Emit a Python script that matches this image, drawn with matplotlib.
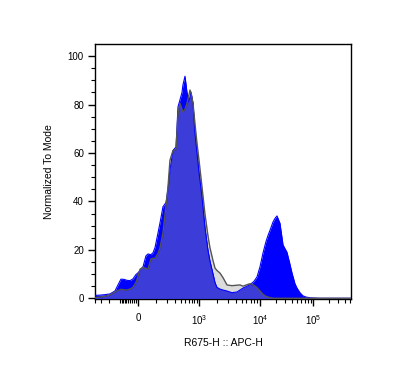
import numpy as np
import matplotlib
matplotlib.use("Agg")
import matplotlib.pyplot as plt
from matplotlib.scale import FuncScale

plt.rcParams['font.family'] = ['Liberation Sans', 'DejaVu Sans']
plt.rcParams['mathtext.fontset'] = 'custom'
plt.rcParams['mathtext.rm'] = 'Liberation Sans'

# intensité APC-H (échelle biexponentielle)
intensity = [-407, -316, -243, -185, -139, -115, -94, -74, -57, -40, -25, -10, 0,
             10, 25, 40, 51, 68, 81, 94, 115, 130, 156, 185, 207, 230, 270, 316,
             350, 388, 429, 449, 499, 551, 608, 640, 672, 743, 820, 905, 1000,
             1120, 1250, 1400, 1510, 1700, 1830, 1970, 2210, 2480, 2880, 3480,
             4200, 4700, 5260, 6120, 6850, 7970, 8930, 10000, 11400, 13000,
             14200, 15400, 17600, 19200, 20900, 23800, 27200, 29600, 32300,
             36800, 40200, 45700, 49900, 56800, 64700, 73800, 87700, 109000,
             135500, 521000]

# échantillon (bleu)
sample = [1.2, 1.3, 1.5, 1.8, 3.0, 5.5, 7.9, 7.8, 7.4, 7.3, 8.0, 9.8, 10.5,
          11.5, 13, 17.5, 18.3, 18.0, 18.8, 21, 27, 31, 37.8, 39.5, 45, 53, 61,
          62.5, 79, 82, 85, 88, 91.7, 85, 81.8, 83, 85, 80.5, 68, 60, 52,
          42, 29.4, 20, 15.5, 10, 6.5, 4.5, 3.8, 3.4, 3.0, 2.3,
          2.6, 3.4, 4.2, 5.0, 5.6, 7.0, 8.8, 13, 18.7, 23.5,
          26, 28, 31.5, 33, 34, 31, 22, 20.5, 19,
          14, 10.4, 6, 4.2, 2.3, 1.0, 0.5, 0.2, 0.1,
          0, 0]

# contrôle (gris)
control = [0.3, 0.5, 0.8, 1.4, 2.6, 3.2, 3.7, 3.5, 3.4, 3.8, 4.5, 6.5, 9,
           12, 12.8, 12.3, 12.0, 16.2, 16.5, 16.5, 18.5, 20.7, 27, 38, 46, 57, 61,
           61.5, 76, 80.5, 78, 77, 78, 80.5, 84, 86, 85, 80.5, 72, 64, 57,
           46, 35, 26, 21, 15.5, 12.5, 11.5, 10.4, 8.5, 5.5, 5.2,
           5.4, 5.5, 5.0, 5.6, 6.0, 5.4, 4.4, 3.0, 1.6, 0.8,
           0.5, 0.3, 0, 0, 0, 0, 0, 0, 0,
           0, 0, 0, 0, 0, 0, 0, 0, 0,
           0, 0]

major_ticks = [0, 1000, 10000, 100000]
major_labels = ['0', r'$\mathregular{10^3}$', r'$\mathregular{10^4}$', r'$\mathregular{10^5}$']

# échelle type logicle : asinh puis ajustement par morceaux sur les décades
U = np.array([-20, 0, np.arcsinh(10), np.arcsinh(100), np.arcsinh(1000), 20])
P = np.array([138 - 20 * 20.35, 138, 199, 260, 313, 313 + (20 - np.arcsinh(1000)) * 23.01])


def forward(x):
    return np.interp(np.arcsinh(np.asarray(x, dtype=float) / 100), U, P)


def inverse(p):
    return 100 * np.sinh(np.interp(np.asarray(p, dtype=float), P, U))


x = np.array(intensity, dtype=float)
b = np.array(sample)
g = np.array(control)

fig = plt.figure(figsize=(4.09, 3.86), dpi=100)
ax = fig.add_axes([95 / 409, 1 - 299 / 386, 256 / 409, 255 / 386])
ax.set_xscale(FuncScale(ax, (forward, inverse)))

ax.fill_between(x, 0, g, color='#dcdcdc', lw=0, zorder=1)
ax.fill_between(x, 0, b, color='#0000ff', lw=0, zorder=2)
ax.fill_between(x, 0, np.minimum(b, g), color='#3c3cd8', lw=0, zorder=3)
ax.plot(x, b, color='#0000ff', lw=0.8, zorder=4)
ax.plot(x, g, color='#555555', lw=1.0, zorder=5)

ax.set_xlim(inverse(95), inverse(351))
ax.set_ylim(-0.3, 105)

minor = [-400, -300, -200, -100] + list(range(-90, 0, 10))
minor += list(range(100, 1000, 100)) + list(range(2000, 10000, 1000))
minor += list(range(20000, 100000, 10000)) + list(range(200000, 600000, 100000))
ax.set_xticks(major_ticks)
ax.set_xticklabels(major_labels)
ax.set_xticks(minor, minor=True)
ax.set_yticks(range(0, 101, 20))
ax.set_yticks(range(0, 101, 5), minor=True)

ax.tick_params(axis='both', which='major', length=5, width=1, labelsize=7, direction='out', pad=3)
ax.tick_params(axis='both', which='minor', length=3, width=0.8, direction='out')
ax.tick_params(axis='x', which='major', pad=5)
for s in ax.spines.values():
    s.set_linewidth(1)

ax.set_xlabel('R675-H :: APC-H', fontsize=7.5, labelpad=8)
ax.set_ylabel('Normalized To Mode', fontsize=7.5, labelpad=10)

fig.savefig('out.png', dpi=100)
